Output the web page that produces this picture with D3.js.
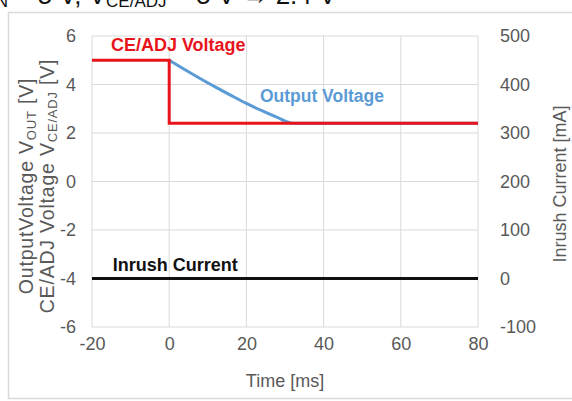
<!DOCTYPE html>
<html>
<head>
<meta charset="utf-8">
<script src="https://cdn.jsdelivr.net/npm/d3@7"></script>
<style>
  html, body { margin: 0; padding: 0; background: #fff; }
  svg { display: block; font-family: "Liberation Sans", Arial, sans-serif; }
</style>
</head>
<body>
<svg id="chart" width="572" height="401"></svg>
<script>
// Time axis ticks (ms) and voltage / current ticks
const timeTicks = [-20, 0, 20, 40, 60, 80];
const voltTicks = [-6, -4, -2, 0, 2, 4, 6];
const currentTicks = [-100, 0, 100, 200, 300, 400, 500];

// CE/ADJ voltage: 5 V until t = 0, then stepped to 2.4 V
const ceTime = [-20, 0, 0, 80];
const ceVolt = [5, 5, 2.4, 2.4];

// Output voltage discharging from 5 V down to 2.4 V
const outTime = [0, 4, 8, 12, 16, 20, 24, 28, 32, 80];
const outVolt = [5, 4.62, 4.25, 3.89, 3.55, 3.22, 2.92, 2.64, 2.4, 2.4];

// Inrush current (mA) stays at zero
const inrushTime = [-20, 80];
const inrushCurrent = [0, 0];

const svg = d3.select("#chart");

const x = d3.scaleLinear().domain([-20, 80]).range([92, 478]);
const y = d3.scaleLinear().domain([-6, 6]).range([327, 36]);
const y2 = d3.scaleLinear().domain([-100, 500]).range([327, 36]);

const tickColor = "#595959";
const gridColor = "#d9d9d9";
const plain = d => String(d);

// Heading line above the chart frame (only its lower part shows)
const head = svg.append("text")
  .attr("x", -9).attr("y", 4)
  .attr("font-size", 26).attr("fill", "#111");
head.append("tspan").attr("font-size", 17).attr("dy", 3).text("IN");
head.append("tspan").attr("dy", -3).text(" = 5 V, V");
head.append("tspan").attr("font-size", 17).attr("dy", 3).text("CE/ADJ");
head.append("tspan").attr("dy", -3).text(" = 5 V \u2192 2.4 V");

// Chart frame
svg.append("rect")
  .attr("x", 8.5).attr("y", 12.5)
  .attr("width", 620).attr("height", 386)
  .attr("fill", "none").attr("stroke", "#d9d9d9").attr("stroke-width", 1.5);

// Gridlines
const grid = svg.append("g");
grid.selectAll(".vg").data(timeTicks).join("line")
  .attr("x1", d => x(d)).attr("x2", d => x(d))
  .attr("y1", y(6)).attr("y2", y(-6))
  .attr("stroke", gridColor).attr("stroke-width", 1);
grid.selectAll(".hg").data(voltTicks).join("line")
  .attr("x1", x(-20)).attr("x2", x(80))
  .attr("y1", d => y(d)).attr("y2", d => y(d))
  .attr("stroke", gridColor).attr("stroke-width", 1);

// Axes (labels only)
function styleAxis(g) {
  g.select(".domain").remove();
  g.selectAll(".tick line").remove();
  g.selectAll(".tick text")
    .attr("fill", tickColor)
    .attr("font-size", 18)
    .attr("font-family", "Liberation Sans, Arial, sans-serif");
}
svg.append("g")
  .attr("transform", `translate(0,${y(-6)})`)
  .call(d3.axisBottom(x).tickValues(timeTicks).tickSize(0).tickPadding(10).tickFormat(plain))
  .call(styleAxis);
svg.append("g")
  .attr("transform", `translate(${x(-20)},0)`)
  .call(d3.axisLeft(y).tickValues(voltTicks).tickSize(0).tickPadding(16).tickFormat(plain))
  .call(styleAxis);
svg.append("g")
  .attr("transform", `translate(${x(80)},0)`)
  .call(d3.axisRight(y2).tickValues(currentTicks).tickSize(0).tickPadding(22).tickFormat(plain))
  .call(styleAxis);

// Axis titles
svg.append("text")
  .attr("x", (x(-20) + x(80)) / 2).attr("y", 387)
  .attr("text-anchor", "middle").attr("font-size", 18).attr("fill", tickColor)
  .text("Time  [ms]");

const cy = 186;
const t1 = svg.append("text")
  .attr("transform", `translate(33,${cy}) rotate(-90)`)
  .attr("text-anchor", "middle").attr("font-size", 19.5)
  .attr("letter-spacing", 0.8).attr("fill", tickColor);
t1.append("tspan").text("OutputVoltage  V");
t1.append("tspan").attr("font-size", 13).attr("dy", 3).text("OUT");
t1.append("tspan").attr("dy", -3).text(" [V]");

const t2 = svg.append("text")
  .attr("transform", `translate(54,${cy}) rotate(-90)`)
  .attr("text-anchor", "middle").attr("font-size", 19.5)
  .attr("letter-spacing", 0.8).attr("fill", tickColor);
t2.append("tspan").text("CE/ADJ Voltage  V");
t2.append("tspan").attr("font-size", 13).attr("dy", 3).text("CE/ADJ");
t2.append("tspan").attr("dy", -3).text(" [V]");

svg.append("text")
  .attr("transform", `translate(566,${cy - 2}) rotate(-90)`)
  .attr("text-anchor", "middle").attr("font-size", 18).attr("fill", tickColor)
  .text("Inrush Current [mA]");

// Series lines
const lineV = d3.line().x(d => x(d[0])).y(d => y(d[1]));
const lineOut = d3.line().curve(d3.curveMonotoneX).x(d => x(d[0])).y(d => y(d[1]));
const lineI = d3.line().x(d => x(d[0])).y(d => y2(d[1]));

svg.append("path")
  .datum(d3.zip(outTime, outVolt))
  .attr("d", lineOut)
  .attr("fill", "none").attr("stroke", "#5b9bd5").attr("stroke-width", 3);

svg.append("path")
  .datum(d3.zip(ceTime, ceVolt))
  .attr("d", lineV)
  .attr("fill", "none").attr("stroke", "#e8141c").attr("stroke-width", 3);

svg.append("path")
  .datum(d3.zip(inrushTime, inrushCurrent))
  .attr("d", lineI)
  .attr("fill", "none").attr("stroke", "#111").attr("stroke-width", 3);

// Series labels
svg.append("text")
  .attr("x", x(-15.1)).attr("y", y(5.38))
  .attr("font-size", 18).attr("font-weight", "bold").attr("fill", "#e8141c")
  .text("CE/ADJ Voltage");
svg.append("text")
  .attr("x", x(23.5)).attr("y", y(3.28))
  .attr("font-size", 17.5).attr("font-weight", "bold").attr("fill", "#5b9bd5")
  .text("Output Voltage");
svg.append("text")
  .attr("x", x(-14.6)).attr("y", y(-3.69))
  .attr("font-size", 18).attr("font-weight", "bold").attr("fill", "#111")
  .text("Inrush Current");
</script>
</body>
</html>
